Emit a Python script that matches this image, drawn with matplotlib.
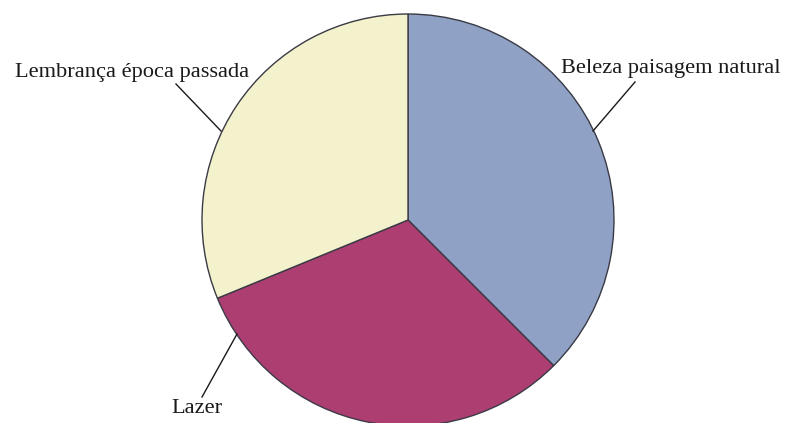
import matplotlib.pyplot as plt

labels = ["Beleza paisagem natural", "Lazer", "Lembrança época passada"]
values = [37.5, 31.3, 31.2]
colors = ["#8fa1c5", "#ad3e72", "#f4f2cc"]

W, H = 788, 423

fig = plt.figure(figsize=(W / 100, H / 100), dpi=100)
ax = fig.add_axes([0, 0, 1, 1])

ax.pie(values, colors=colors, startangle=90, counterclock=False,
       center=(408, H - 220), radius=206, frame=True,
       wedgeprops=dict(edgecolor="#3a3a45", linewidth=1.0))
ax.set_xlim(0, W)
ax.set_ylim(0, H)
ax.set_aspect("equal")
ax.axis("off")

font = dict(family="Liberation Serif", fontsize=16.1, color="#1a1a1a")

# label text position, leader start (near text), leader end (near pie)
label_pos = [(671, 68), (197, 408), (132, 72)]
leaders = [((635, 82), (593, 131)), ((202, 397), (237, 334)), ((176, 84), (221, 131))]

for lab, (tx, ty), (p0, p1) in zip(labels, label_pos, leaders):
    ax.text(tx, H - ty, lab, ha="center", va="center", **font)
    ax.plot([p0[0], p1[0]], [H - p0[1], H - p1[1]], color="#1a1a1a", lw=1.0)

fig.savefig("out.png", dpi=100)
